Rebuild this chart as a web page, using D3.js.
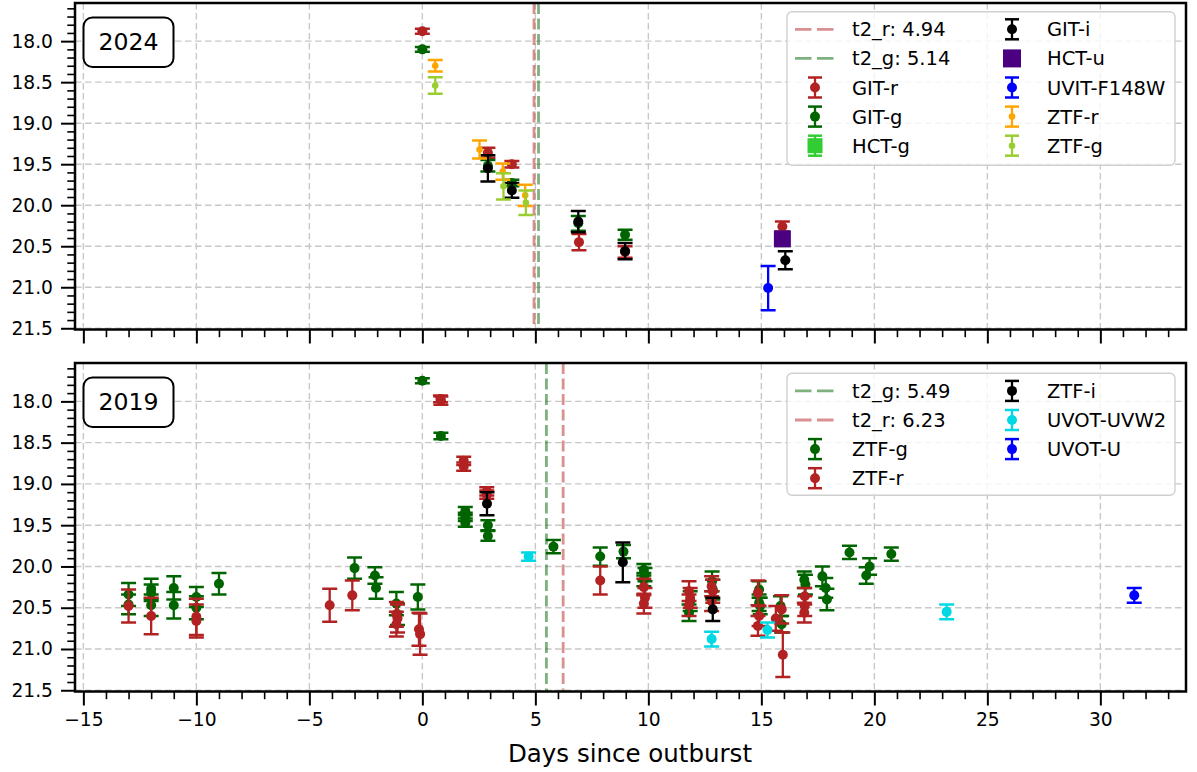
<!DOCTYPE html>
<html>
<head>
<meta charset="utf-8">
<script src="https://cdn.jsdelivr.net/npm/d3@7"></script>
<style>
  body { margin: 0; background: #fff; }
  svg { display: block; font-family: "DejaVu Sans", sans-serif; }
</style>
</head>
<body>
<svg id="chart" width="1197" height="772"></svg>
<script>
// ---------------- DATA (day since outburst, magnitude, error) ----------------
// 2024 panel
const gitR_2024 = [[0.0,17.88,0.03],[2.9,19.36,0.06],[3.96,19.50,0.04],[6.93,20.45,0.10],[8.97,20.57,0.07],[15.93,20.26,0.06]];
const gitG_2024 = [[0.0,18.10,0.03],[2.9,19.52,0.07],[3.96,19.73,0.04],[6.9,20.22,0.09],[8.97,20.36,0.06]];
const hctG_2024 = [[15.93,20.42,0.05]];
const gitI_2024 = [[2.9,19.55,0.16],[3.96,19.82,0.09],[6.9,20.20,0.13],[8.97,20.56,0.10],[16.06,20.67,0.11]];
const hctU_2024 = [[15.93,20.41,0.05]];
const uvit_2024 = [[15.3,21.01,0.27]];
const ztfR_2024 = [[0.57,18.30,0.07],[2.53,19.32,0.11],[3.56,19.59,0.10],[4.55,19.88,0.13]];
const ztfG_2024 = [[0.57,18.54,0.10],[3.59,19.77,0.16],[4.58,19.97,0.15]];
const t2_2024 = [["t2_r: 4.94",4.94,"r"],["t2_g: 5.14",5.14,"g"]];

// 2019 panel
const ztfG_2019 = [[-13.0,20.34,0.14],[-13.0,20.46,0.12],[-12.0,20.27,0.12],[-12.0,20.32,0.10],[-12.0,20.47,0.13],
  [-11.0,20.26,0.14],[-11.0,20.47,0.16],[-10.0,20.37,0.12],[-10.0,20.50,0.14],[-9.0,20.21,0.13],
  [-3.0,20.02,0.13],[-2.1,20.11,0.10],[-2.05,20.26,0.13],[-1.15,20.45,0.14],[-1.1,20.58,0.13],[-0.2,20.37,0.15],
  [0.0,17.75,0.03],[0.82,18.42,0.04],[1.9,19.33,0.05],[1.9,19.40,0.05],[1.9,19.47,0.05],[2.9,19.50,0.06],[2.9,19.63,0.06],
  [5.8,19.76,0.08],[7.87,19.88,0.11],[8.9,19.82,0.08],[9.8,20.04,0.07],[9.85,20.10,0.08],[9.8,20.16,0.08],
  [11.85,20.42,0.12],[11.8,20.56,0.10],[12.82,20.18,0.12],[12.85,20.28,0.12],[14.9,20.28,0.10],[14.9,20.44,0.10],[14.95,20.48,0.10],
  [15.85,20.48,0.12],[15.9,20.70,0.10],[16.9,20.16,0.10],[16.95,20.22,0.12],[17.7,20.12,0.12],[17.85,20.26,0.12],[17.9,20.40,0.13],
  [18.9,19.83,0.08],[19.64,20.11,0.10],[19.79,20.00,0.10],[20.75,19.85,0.08]];
const ztfR_2019 = [[-13.0,20.48,0.20],[-12.0,20.60,0.22],[-10.0,20.61,0.22],[-10.0,20.66,0.20],[-4.1,20.47,0.20],[-3.1,20.35,0.18],
  [-1.15,20.58,0.15],[-1.1,20.63,0.17],[-1.15,20.70,0.15],[-0.15,20.76,0.20],[-0.1,20.82,0.25],
  [0.8,17.97,0.04],[0.82,17.99,0.05],[1.83,18.72,0.05],[1.83,18.79,0.05],[2.85,19.09,0.05],[2.85,19.13,0.05],
  [7.87,20.17,0.17],[9.8,20.25,0.10],[9.85,20.38,0.12],[9.8,20.45,0.12],[11.8,20.30,0.12],[11.85,20.38,0.12],[11.8,20.47,0.13],
  [12.8,20.24,0.12],[12.85,20.30,0.14],[12.8,20.42,0.12],[14.85,20.32,0.15],[14.9,20.60,0.12],[14.85,20.72,0.12],
  [15.64,20.63,0.15],[15.9,20.52,0.17],[15.95,21.07,0.27],[16.92,20.36,0.10],[16.92,20.48,0.12],[16.9,20.56,0.12]];
const ztfI_2019 = [[2.86,19.24,0.14],[8.87,19.95,0.24],[12.85,20.52,0.14]];
const uvw2_2019 = [[4.7,19.88,0.05],[12.8,20.88,0.09],[15.27,20.77,0.09],[23.2,20.55,0.09]];
const uvotU_2019 = [[31.5,20.35,0.09]];
const t2_2019 = [["t2_g: 5.49",5.49,"g"],["t2_r: 6.23",6.23,"r"]];

const xTicks = [-15,-10,-5,0,5,10,15,20,25,30];
const yTicks = [18.0,18.5,19.0,19.5,20.0,20.5,21.0,21.5];
const xLabel = "Days since outburst";

// ---------------- SETUP ----------------
const svg = d3.select("#chart");
const FONT = "DejaVu Sans";
const X0 = 75, X1 = 1186;
const x = d3.scaleLinear().domain([-15.37, 33.79]).range([X0, X1]);
const yDomain = [17.535, 21.515];

const t2Colors = { r: "rgba(178,34,34,0.5)", g: "rgba(0,100,0,0.5)" };

const panels = [
  { year: "2024", y0: 3, y1: 329.5, t2: t2_2024,
    series: [
      { name: "GIT-r", data: gitR_2024, color: "#b22222", marker: "circle", r: 5 },
      { name: "GIT-g", data: gitG_2024, color: "#006400", marker: "circle", r: 5 },
      { name: "HCT-g", data: hctG_2024, color: "#32cd32", marker: "square", r: 7.5 },
      { name: "GIT-i", data: gitI_2024, color: "#000000", marker: "circle", r: 5 },
      { name: "HCT-u", data: hctU_2024, color: "#4b0082", marker: "square", r: 8.5 },
      { name: "UVIT-F148W", data: uvit_2024, color: "#0000ff", marker: "circle", r: 5 },
      { name: "ZTF-r", data: ztfR_2024, color: "#ffa500", marker: "circle", r: 3.3 },
      { name: "ZTF-g", data: ztfG_2024, color: "#9acd32", marker: "circle", r: 3.3 }
    ],
    legendRows: 5, legendY: 11.7, legendH: 153.5 },
  { year: "2019", y0: 363, y1: 691.5, t2: t2_2019,
    series: [
      { name: "ZTF-g", data: ztfG_2019, color: "#006400", marker: "circle", r: 5 },
      { name: "ZTF-r", data: ztfR_2019, color: "#b22222", marker: "circle", r: 5 },
      { name: "ZTF-i", data: ztfI_2019, color: "#000000", marker: "circle", r: 5 },
      { name: "UVOT-UVW2", data: uvw2_2019, color: "#00d8e4", marker: "circle", r: 5 },
      { name: "UVOT-U", data: uvotU_2019, color: "#0000ff", marker: "circle", r: 5 }
    ],
    legendRows: 4, legendY: 373.3, legendH: 122 }
];

function drawMarker(g, cx, cy, s, color) {
  if (s.marker === "square") {
    g.append("rect").attr("x", cx - s.r).attr("y", cy - s.r)
      .attr("width", 2 * s.r).attr("height", 2 * s.r).attr("fill", color);
  } else {
    g.append("circle").attr("cx", cx).attr("cy", cy).attr("r", s.r).attr("fill", color);
  }
}

function drawErr(g, cx, yTop, yBot, color, cap) {
  g.append("line").attr("x1", cx).attr("x2", cx).attr("y1", yTop).attr("y2", yBot)
    .attr("stroke", color).attr("stroke-width", 2.3);
  [yTop, yBot].forEach(yy => g.append("line").attr("x1", cx - cap).attr("x2", cx + cap)
    .attr("y1", yy).attr("y2", yy).attr("stroke", color).attr("stroke-width", 2.5));
}

panels.forEach((p, pi) => {
  const y = d3.scaleLinear().domain(yDomain).range([p.y0, p.y1]);
  const clipId = "clip" + pi;
  svg.append("clipPath").attr("id", clipId).append("rect")
    .attr("x", X0).attr("y", p.y0).attr("width", X1 - X0).attr("height", p.y1 - p.y0);

  // grid
  const grid = svg.append("g");
  yTicks.forEach(v => grid.append("line").attr("x1", X0).attr("x2", X1).attr("y1", y(v)).attr("y2", y(v))
    .attr("stroke", "#c8c8c8").attr("stroke-width", 1.4).attr("stroke-dasharray", "6.5,3.5"));
  xTicks.forEach(v => grid.append("line").attr("x1", x(v)).attr("x2", x(v)).attr("y1", p.y0).attr("y2", p.y1)
    .attr("stroke", "#c8c8c8").attr("stroke-width", 1.4).attr("stroke-dasharray", "6.5,3.5"));

  // t2 lines
  const plot = svg.append("g").attr("clip-path", `url(#${clipId})`);
  p.t2.forEach(t => plot.append("line").attr("x1", x(t[1])).attr("x2", x(t[1]))
    .attr("y1", p.y0).attr("y2", p.y1).attr("stroke", t2Colors[t[2]])
    .attr("stroke-width", 2.8).attr("stroke-dasharray", "11,4.5"));

  // data
  p.series.forEach(s => {
    const g = plot.append("g");
    s.data.forEach(d => {
      const cx = x(d[0]);
      drawErr(g, cx, y(d[1] - d[2]), y(d[1] + d[2]), s.color, 7.5);
      drawMarker(g, cx, y(d[1]), s, s.color);
    });
  });

  // axes
  const yMajor = d3.axisLeft(y).tickValues(yTicks).tickSize(14).tickPadding(8).tickFormat(d3.format(".1f"));
  const yMinorVals = d3.range(176, 216).map(v => v / 10).filter(v => Math.round(v * 10) % 5 !== 0);
  const yMinor = d3.axisLeft(y).tickValues(yMinorVals).tickSize(7.7).tickFormat("");
  const ga = svg.append("g").attr("transform", `translate(${X0},0)`).call(yMinor);
  ga.selectAll("line").attr("stroke-width", 1.6);
  const gb = svg.append("g").attr("transform", `translate(${X0},0)`).call(yMajor);
  gb.selectAll("line").attr("stroke-width", 2);
  gb.selectAll("text").attr("font-size", "18.7px").attr("font-family", FONT).attr("fill", "#000");

  const xMinorVals = d3.range(-15, 34).filter(v => v % 5 !== 0);
  const xMinor = d3.axisBottom(x).tickValues(xMinorVals).tickSize(7.7).tickFormat("");
  const xMajor = d3.axisBottom(x).tickValues(xTicks).tickSize(14).tickPadding(7)
    .tickFormat(pi === 1 ? d3.format("d") : "");
  const gc = svg.append("g").attr("transform", `translate(0,${p.y1})`).call(xMinor);
  gc.selectAll("line").attr("stroke-width", 1.6);
  const gd = svg.append("g").attr("transform", `translate(0,${p.y1})`).call(xMajor);
  gd.selectAll("line").attr("stroke-width", 2);
  gd.selectAll("text").attr("font-size", "18.7px").attr("font-family", FONT).attr("fill", "#000");
  svg.selectAll(".domain").remove();

  // frame
  svg.append("rect").attr("x", X0).attr("y", p.y0).attr("width", X1 - X0).attr("height", p.y1 - p.y0)
    .attr("fill", "none").attr("stroke", "#000").attr("stroke-width", 2.5);

  // year box
  const by = p.y0 + 14.5;
  svg.append("rect").attr("x", 83.5).attr("y", by).attr("width", 90).attr("height", 49.5)
    .attr("rx", 9).attr("fill", "#fff").attr("stroke", "#000").attr("stroke-width", 2);
  svg.append("text").attr("x", 128.5).attr("y", by + 32.5).attr("text-anchor", "middle")
    .attr("font-size", "23.6px").attr("font-family", FONT).text(p.year);

  // legend
  const lg = svg.append("g");
  lg.append("rect").attr("x", 787).attr("y", p.legendY).attr("width", 388).attr("height", p.legendH)
    .attr("rx", 5).attr("fill", "rgba(255,255,255,0.8)").attr("stroke", "#d0d0d0").attr("stroke-width", 1.4);
  const items = p.t2.map(t => ({ type: "line", name: t[0], color: t2Colors[t[2]] }))
    .concat(p.series.map(s => ({ type: "err", name: s.name, s })));
  items.forEach((it, i) => {
    const col = Math.floor(i / p.legendRows), row = i % p.legendRows;
    const cy = p.legendY + 17.6 + row * 29.1;
    const hx = col === 0 ? 815 : 1012;
    const tx = col === 0 ? 852 : 1047;
    if (it.type === "line") {
      lg.append("line").attr("x1", hx - 20).attr("x2", hx + 19).attr("y1", cy).attr("y2", cy)
        .attr("stroke", it.color).attr("stroke-width", 2.8).attr("stroke-dasharray", "16.5,5.5");
    } else {
      const s = it.s;
      if (s.name !== "HCT-u") drawErr(lg, hx, cy - 10, cy + 10, s.color, 7);
      drawMarker(lg, hx, cy, s.name === "HCT-u" ? { marker: "square", r: 9 } : s, s.color);
    }
    lg.append("text").attr("x", tx).attr("y", cy).attr("dy", "0.36em")
      .attr("font-size", "19.5px").attr("font-family", FONT).text(it.name);
  });
});

svg.append("text").attr("x", 630).attr("y", 762).attr("text-anchor", "middle")
  .attr("font-size", "24.5px").attr("font-family", FONT).text(xLabel);
</script>
</body>
</html>
